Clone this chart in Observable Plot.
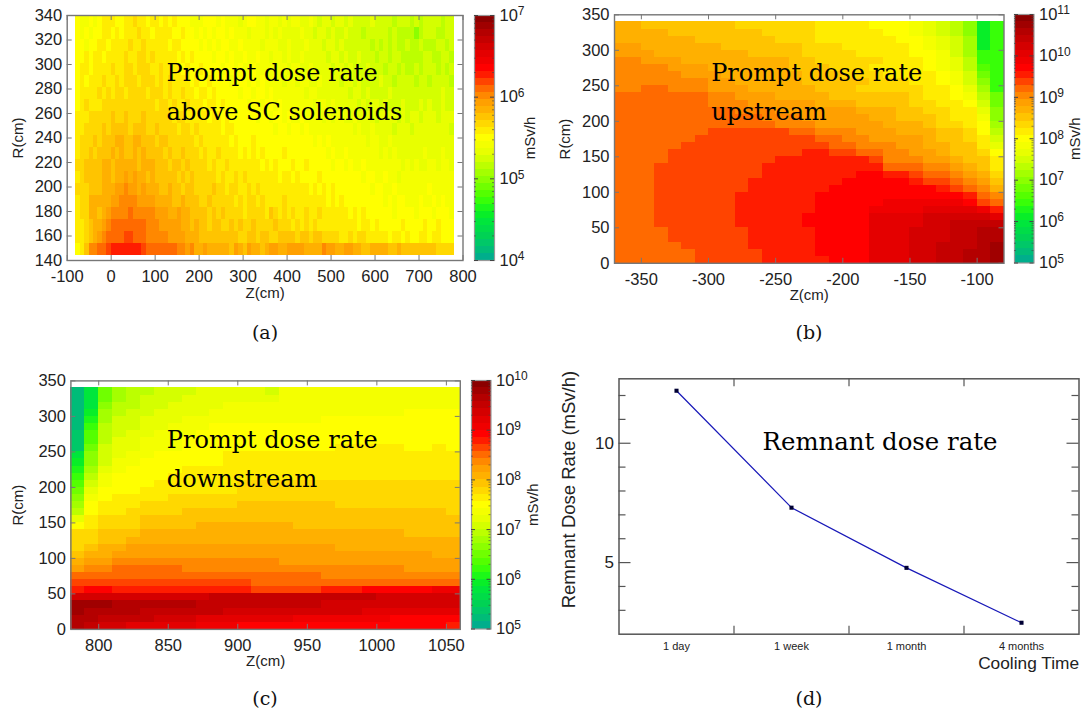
<!DOCTYPE html>
<html><head><meta charset="utf-8">
<script src="https://cdn.jsdelivr.net/npm/d3@7"></script>
<script src="https://cdn.jsdelivr.net/npm/@observablehq/plot@0.6"></script>
<style>
html,body{margin:0;padding:0;background:#fff}
#page{position:relative;width:1081px;height:711px;overflow:hidden;background:#fff}
.slot{position:absolute;width:max-content}
.slot svg{overflow:visible;background:transparent;display:block;max-width:none!important;height:auto}
.cap{position:absolute;font-family:"DejaVu Serif",serif;font-size:19px;color:#111;transform:translate(-50%,-50%)}
</style></head><body><div id="page"></div>
<script>
// Colour bands of the shared palette, bottom of the colour bar first.
const palette = ["#00ae8c","#00bc78","#00c868","#00d254","#00dc48","#00e63c","#08ee28","#1cf818","#38ff08","#54ff00","#70ff00","#8cff00","#a4ff00","#bcff00","#d4ff00","#e8ff00","#f4ff00","#ffff00","#ffec00","#ffd800","#ffc400","#ffb000","#ffa000","#ff8800","#ff6a00","#ff4400","#ff1c00","#ff0000","#f00000","#e40000","#d40000","#c40000","#b40000","#a00000","#8b0000"];

// Panel (a): colour band of each cell, top row (R=340) first, Z=-80 first.
const aboveSolenoids = [
[17,16,16,17,16,17,18,18,18,17,17,18,18,19,18,18,17,18,18,17,18,17,18,17,17,17,16,16,16,17,17,17,16,17,16,16,16,15,16,17,17,16,16,15,16,16,15,16,15,16,16,15,15,16,15,14,15,15,14,15,15,14,15,14,14,14,14,15,14,14,14,14,13,14,14,14,13,14,13,14,14,14,14,13,14,14],
[17,16,17,16,17,17,18,18,17,18,17,18,18,18,19,18,18,17,18,18,18,18,17,17,18,17,17,16,17,16,17,16,17,17,16,17,16,16,16,15,16,16,16,15,16,15,16,15,15,15,15,16,15,15,14,15,15,14,15,14,14,15,14,14,14,13,14,14,14,14,14,13,14,13,13,13,13,11,13,14,14,14,13,13,14,14],
[17,17,16,17,17,18,18,17,18,18,18,18,19,18,18,19,18,18,18,18,18,17,18,18,17,17,17,17,16,17,16,17,16,17,17,16,16,17,16,16,16,16,15,16,16,16,15,15,16,15,15,15,16,15,15,15,14,15,15,14,15,14,14,14,14,14,14,13,14,13,14,13,14,13,13,14,13,13,14,13,13,13,14,14,13,14],
[17,17,18,17,18,18,17,18,18,18,18,19,18,18,19,19,18,19,18,18,18,18,18,17,18,17,18,17,17,17,17,16,17,17,16,17,16,16,17,16,16,17,16,16,15,16,16,15,16,15,15,16,15,15,15,15,15,14,15,15,14,15,14,14,15,14,14,14,13,14,14,13,14,14,13,13,13,13,13,14,14,13,13,14,14,13],
[17,18,18,17,18,18,18,18,19,18,18,19,19,18,19,19,19,18,18,19,18,18,18,18,17,18,17,17,18,17,17,17,17,16,17,17,16,17,16,16,17,16,16,16,16,15,16,16,15,16,16,15,15,16,15,15,15,15,14,15,15,14,15,14,14,14,15,14,14,14,13,14,14,13,14,13,13,14,13,14,14,14,13,14,13,14],
[17,18,17,18,18,18,19,18,18,19,18,19,19,19,18,19,19,19,18,19,18,19,18,18,18,18,17,18,17,17,18,17,17,17,17,16,17,17,17,16,17,16,17,16,16,16,16,15,16,16,15,16,16,15,15,16,15,15,15,15,14,15,15,14,15,14,14,14,14,15,14,14,13,14,14,14,14,13,14,14,13,14,14,14,14,13],
[17,18,18,18,18,19,18,19,18,19,19,18,19,19,19,19,18,19,19,19,18,19,18,18,19,18,18,17,18,18,17,18,17,17,17,17,17,16,17,17,16,17,17,16,17,16,16,16,16,16,16,16,15,16,16,15,15,15,15,15,15,15,14,15,15,14,15,14,14,14,14,15,14,14,14,14,14,14,14,14,14,14,14,15,14,14],
[17,18,19,18,18,18,19,19,19,19,19,19,19,19,19,19,19,19,18,19,19,18,19,18,18,19,18,18,18,17,18,18,17,18,17,17,17,17,17,16,17,17,16,17,17,16,17,16,16,16,16,16,16,16,15,16,16,15,16,15,15,15,15,15,14,15,14,15,15,14,15,14,14,14,15,14,14,14,15,14,15,14,14,15,14,14],
[18,18,18,19,19,19,19,19,20,19,19,20,19,19,19,20,19,19,19,19,19,19,18,19,19,18,18,18,18,18,17,18,18,17,18,17,17,17,17,17,17,16,17,17,16,17,17,16,17,16,16,17,16,16,16,16,15,16,15,16,16,15,15,16,15,15,15,15,14,15,15,15,15,14,15,14,15,15,14,15,15,15,14,15,15,15],
[18,18,19,19,19,19,20,19,20,20,20,20,19,20,20,20,19,19,20,19,19,19,19,18,19,19,18,19,18,18,18,18,18,17,18,18,17,17,17,17,17,17,17,17,17,16,17,17,16,17,17,16,17,16,16,16,16,16,16,16,16,16,16,15,16,15,15,16,15,15,15,15,14,15,15,15,14,15,15,15,15,15,15,15,15,14],
[18,19,19,19,20,19,20,20,20,21,21,20,20,21,21,20,20,20,19,20,20,19,19,19,19,19,19,18,19,18,18,18,18,18,18,17,18,17,17,17,18,17,17,17,17,17,17,17,17,17,17,17,17,17,16,17,16,17,16,16,16,16,16,16,16,16,15,16,16,15,15,16,15,15,15,15,15,15,15,15,15,15,15,15,15,15],
[18,19,19,20,19,20,20,20,21,20,21,20,20,21,20,21,20,20,20,20,19,20,19,19,20,19,19,19,18,19,18,18,19,18,18,18,18,17,18,17,18,17,18,17,17,17,17,18,17,17,17,17,17,17,17,17,17,16,17,16,16,17,16,16,16,16,16,16,16,15,16,15,16,15,15,15,15,15,15,16,15,15,15,16,15,15],
[19,19,20,20,20,20,21,21,20,21,21,21,21,21,20,21,21,21,20,20,20,19,20,20,19,20,19,19,19,19,18,19,18,18,19,18,18,18,18,18,18,18,17,18,17,18,17,17,17,18,17,17,18,17,17,17,17,17,16,17,17,16,17,16,16,17,16,16,16,16,16,16,16,16,15,16,15,16,15,15,16,16,15,16,16,15],
[18,19,20,20,20,20,21,21,20,21,21,22,21,22,21,21,20,21,20,20,20,20,20,19,20,19,20,19,19,19,19,19,18,19,18,18,19,18,19,18,18,18,18,18,18,18,17,18,18,17,18,17,17,17,17,18,17,17,17,17,17,17,17,17,17,16,17,17,16,16,17,16,16,15,16,16,16,16,16,16,16,16,16,16,16,16],
[19,19,19,20,20,20,21,21,21,22,22,23,22,22,21,22,21,21,21,20,20,21,20,20,19,20,20,19,19,19,19,20,19,19,18,19,19,18,18,19,18,19,18,18,18,18,18,18,18,18,18,18,18,17,18,17,18,17,18,17,17,17,17,17,17,17,17,16,17,17,16,16,17,16,16,16,16,16,16,16,17,16,16,16,16,16],
[18,19,19,21,21,21,21,21,22,22,23,23,23,23,22,22,22,22,21,21,21,21,20,20,21,20,20,20,19,19,20,19,19,19,19,19,18,19,18,19,19,18,19,18,18,18,18,19,18,18,18,18,18,18,18,18,18,17,18,17,18,17,17,17,17,17,17,17,17,17,16,17,16,17,17,16,16,16,17,16,16,17,16,17,16,16],
[18,19,19,21,21,20,21,22,23,23,23,23,24,23,23,23,23,23,22,22,22,21,21,22,21,21,20,20,20,20,19,20,19,20,19,19,19,19,18,19,19,19,19,18,20,19,18,19,18,19,18,18,19,18,18,19,18,18,18,18,18,18,17,18,17,18,17,17,17,17,17,17,16,17,17,17,17,16,17,17,17,16,17,17,17,16],
[18,18,19,20,21,21,22,23,24,24,24,24,24,24,24,24,23,23,23,22,22,22,22,22,21,21,20,21,20,20,19,20,20,19,19,20,19,20,19,19,20,19,19,19,19,20,19,19,19,18,19,18,19,18,19,18,18,18,18,18,18,18,18,18,17,18,18,17,18,17,17,17,17,17,18,17,17,17,17,18,17,17,18,17,17,17],
[18,18,19,20,21,22,23,24,24,24,24,25,25,24,24,24,23,23,23,23,23,22,22,22,22,21,21,21,20,20,20,20,20,20,20,20,20,19,19,20,20,19,20,20,19,19,20,20,20,20,19,20,20,19,20,20,19,19,19,19,18,18,19,18,19,19,18,18,18,18,18,17,18,18,17,18,17,17,18,18,17,18,18,17,17,17],
[17,18,20,23,23,24,24,25,26,26,26,26,26,26,26,25,24,24,24,24,24,24,24,23,23,22,23,21,21,22,21,21,21,21,21,20,22,21,20,22,21,21,20,21,22,22,21,21,22,22,22,22,21,21,21,21,23,22,22,21,21,22,22,21,21,20,20,21,21,21,21,20,20,21,20,20,20,20,20,20,20,20,19,19,19,19]
];

// Panel (b): colour band of each cell, top row (R=340) first, Z=-370 first.
const upstream = [
[21,21,20,20,20,20,20,20,20,19,19,19,19,19,19,18,18,18,18,17,17,17,16,15,14,13,11,6,8],
[21,21,21,21,20,20,20,20,20,20,20,19,19,19,19,18,18,18,18,18,17,17,16,15,14,13,11,6,8],
[21,21,21,21,21,21,20,20,20,20,20,20,19,19,19,18,18,18,18,18,18,17,17,16,15,14,12,6,8],
[22,22,21,21,21,21,21,21,20,20,20,20,20,20,19,19,19,18,18,18,18,18,17,16,15,14,12,6,8],
[22,22,22,21,21,21,21,21,21,21,20,20,20,20,19,19,19,19,18,18,18,18,17,17,16,14,12,8,8],
[23,23,22,22,22,21,21,21,21,21,21,21,21,20,20,19,19,19,19,19,18,18,18,17,16,15,13,8,8],
[23,23,23,23,22,22,22,21,21,21,21,21,21,20,20,20,19,19,19,18,18,18,18,17,16,15,13,9,8],
[23,23,23,23,23,22,22,22,21,21,21,21,21,21,20,20,20,19,19,19,18,18,18,18,17,16,14,10,8],
[23,23,23,23,23,23,23,22,22,21,21,21,21,21,20,20,20,20,20,19,19,19,18,18,17,16,14,11,8],
[23,23,24,24,23,23,23,22,22,22,21,21,21,21,21,20,20,20,19,19,19,19,19,18,18,17,15,12,8],
[24,24,24,24,24,24,24,23,23,22,22,22,21,21,21,21,20,20,20,20,20,20,19,18,18,17,16,13,10],
[24,24,24,24,24,24,24,23,23,23,22,22,22,22,22,21,21,21,20,20,20,20,19,19,18,18,17,14,10],
[24,24,24,24,24,24,24,24,24,23,23,23,22,22,22,22,22,22,21,21,21,20,20,19,19,18,18,15,11],
[24,24,24,24,24,24,24,24,24,24,24,23,23,23,22,22,22,22,22,21,21,20,20,20,19,18,18,16,11],
[24,24,24,24,24,24,24,24,24,24,24,24,23,23,23,22,22,22,22,22,21,21,21,20,19,19,18,17,12],
[24,24,24,24,24,24,24,25,25,25,25,25,25,24,24,23,23,23,22,22,22,21,21,21,20,20,19,17,13],
[24,24,24,24,24,24,25,25,25,25,25,25,25,25,25,24,24,23,23,22,22,22,22,21,20,20,19,18,14],
[24,24,24,24,24,25,25,25,25,25,25,25,25,25,25,25,24,24,23,23,23,22,22,21,21,20,20,18,15],
[24,24,24,24,25,25,25,25,25,25,25,25,25,25,26,26,25,25,24,24,23,23,22,22,21,20,20,19,17],
[24,24,24,24,25,25,25,25,25,25,25,25,26,26,26,26,26,26,26,25,23,23,23,22,22,21,20,20,18],
[24,24,24,25,25,25,25,25,25,25,25,26,26,26,26,26,26,26,26,26,24,24,24,23,23,22,21,20,18],
[24,24,24,25,25,25,25,25,25,25,25,26,26,26,26,26,26,26,27,27,26,26,25,24,24,23,22,21,19],
[24,24,24,25,25,25,25,25,25,25,26,26,26,26,26,26,26,27,27,27,27,27,26,25,25,24,23,22,20],
[24,24,24,25,25,25,25,25,25,25,26,26,26,26,26,26,27,27,27,27,27,27,27,27,26,25,24,23,21],
[24,24,24,25,25,25,25,25,25,26,26,26,26,26,26,27,27,27,27,27,27,27,27,27,27,27,26,24,23],
[24,24,24,25,25,25,25,25,25,26,26,26,26,26,26,27,27,27,27,27,28,28,28,28,28,28,27,25,24],
[24,24,24,25,25,25,25,25,25,26,26,26,26,26,26,27,27,27,27,28,28,28,28,29,29,29,29,28,26],
[24,24,24,25,25,25,25,25,25,26,26,26,26,26,27,27,27,27,27,29,29,29,29,30,30,30,30,30,29],
[24,24,24,25,25,25,25,25,25,26,26,26,26,26,27,27,27,27,27,29,29,29,29,30,30,31,31,31,31],
[24,24,24,24,25,25,25,25,25,25,26,26,26,26,26,27,27,27,27,29,29,29,30,30,30,31,31,32,32],
[24,24,24,24,25,25,25,25,25,25,26,26,26,26,26,27,27,27,27,29,29,29,30,30,30,31,31,32,32],
[24,24,24,24,24,25,25,25,25,25,26,26,26,26,26,27,27,27,27,29,29,29,30,30,31,31,31,32,33],
[24,24,24,24,24,24,25,25,25,25,25,26,26,26,26,27,27,27,27,29,29,29,30,30,31,31,32,32,33],
[24,24,24,24,24,24,25,25,25,25,25,26,26,26,26,26,27,27,27,29,29,29,30,30,31,31,32,32,33]
];

// Panel (c): colour band of each cell, top row (R=340) first, Z=780 first.
const downstream = [
[1,5,10,12,13,13,14,14,14,15,15,15,15,15,14,16,16,16,16,16,16,16,16,16,16,16,16,16],
[1,5,10,12,13,14,14,14,15,15,15,15,15,15,15,16,16,16,16,16,16,16,16,16,16,16,16,16],
[1,5,11,13,13,14,14,15,15,15,15,16,16,16,16,16,16,16,16,16,16,16,16,16,16,16,16,16],
[1,6,12,13,14,14,15,15,15,15,16,16,16,16,16,16,16,16,16,16,16,16,16,16,17,17,17,17],
[1,7,12,14,14,15,15,15,16,16,16,16,16,16,16,16,16,16,17,17,17,17,17,17,17,17,17,17],
[1,8,13,14,14,15,15,16,16,16,17,17,17,17,17,17,17,17,17,17,17,17,17,17,17,17,17,17],
[2,9,13,14,15,15,16,16,16,17,17,17,17,17,17,17,17,17,17,17,17,17,17,17,17,17,17,17],
[2,9,13,15,15,16,16,16,17,17,17,17,17,17,17,17,17,17,17,17,17,17,17,17,17,17,17,17],
[2,10,14,15,15,16,16,16,17,17,17,17,17,17,17,17,17,17,17,18,18,18,18,18,17,17,18,17],
[5,11,14,15,16,16,17,17,17,17,17,18,18,18,18,18,18,18,18,18,18,18,18,18,18,18,18,18],
[6,11,14,16,16,17,17,17,17,17,17,18,18,18,18,18,18,18,18,18,18,18,18,18,18,18,18,18],
[7,12,15,16,17,17,17,17,18,18,18,18,18,18,18,18,18,18,18,18,18,18,18,18,18,18,18,18],
[8,13,16,17,17,17,17,18,18,18,18,18,18,18,18,18,18,18,18,18,18,18,18,18,18,18,18,18],
[9,14,16,17,17,17,18,18,18,18,18,18,19,19,19,19,19,19,19,19,19,19,19,19,19,19,19,19],
[10,15,17,17,17,18,18,18,18,18,18,18,19,19,19,19,19,19,19,19,19,19,19,19,19,19,19,19],
[11,16,17,18,18,18,18,19,19,19,19,19,19,19,19,19,19,19,19,19,19,19,19,19,19,19,19,19],
[12,17,18,18,18,19,19,19,19,19,19,19,20,20,20,20,20,20,20,19,19,19,19,19,19,19,19,19],
[13,17,18,18,19,19,19,19,20,20,20,20,20,20,20,20,20,20,20,20,20,20,20,20,20,20,20,19],
[15,18,19,19,19,20,20,20,20,20,20,20,20,20,20,20,20,20,20,20,20,20,20,20,20,20,20,20],
[17,18,19,19,19,20,20,20,20,21,21,21,21,21,21,21,20,20,20,20,20,20,20,20,20,20,20,20],
[19,19,20,20,20,21,21,21,21,21,21,21,21,21,21,21,21,21,21,21,21,21,21,21,20,20,20,20],
[19,19,20,20,21,21,21,21,21,21,21,21,21,21,21,21,21,21,21,21,21,21,21,21,21,21,21,21],
[19,20,21,21,22,22,22,22,22,22,22,22,22,22,22,22,22,22,22,21,21,21,21,21,21,21,21,21],
[20,21,21,22,22,22,22,22,22,22,22,22,22,22,22,22,22,22,22,22,22,22,22,22,22,22,21,21],
[21,22,22,23,23,23,23,23,23,23,23,23,23,23,23,22,22,22,22,22,22,22,22,22,22,22,22,22],
[22,23,23,24,24,24,24,24,23,23,23,23,23,23,23,23,23,23,23,23,23,23,23,23,22,22,22,22],
[24,24,24,24,24,24,24,24,24,24,24,24,24,24,24,24,24,24,23,23,23,23,23,23,23,23,23,23],
[25,25,25,25,25,25,25,25,25,25,25,25,25,24,24,24,24,24,24,24,24,24,24,24,24,24,24,24],
[26,27,27,26,26,26,26,26,26,26,26,26,26,25,25,25,25,25,26,26,26,27,27,27,27,27,28,28],
[30,30,30,30,30,30,30,30,30,30,31,31,31,31,31,31,31,31,31,31,31,31,30,30,30,30,30,30],
[33,33,33,32,32,32,32,32,32,31,31,31,31,31,31,31,31,31,30,30,30,30,30,30,30,30,30,30],
[33,32,32,32,32,31,31,31,31,31,31,30,30,30,30,30,30,30,30,30,30,29,29,29,29,29,29,29],
[32,32,31,31,31,31,30,30,30,29,29,29,29,29,29,29,28,28,28,28,28,28,28,27,27,27,27,27],
[32,31,30,30,29,29,29,29,29,28,28,28,27,27,27,27,27,27,27,27,27,27,27,27,27,27,27,26]
];

// Panel (d)
const coolingTimes = ["1 day","1 week","1 month","4 months"];
const remnantDose = [12.2,7.3,4.78,2.48];

const sans = "'Liberation Sans',Arial,sans-serif";
const serif = "'DejaVu Serif',serif";
const frameColor = "#777";
const page = document.getElementById("page");
function place(node,left,top){const d=document.createElement("div");d.className="slot";d.style.left=left+"px";d.style.top=top+"px";d.appendChild(node);page.appendChild(d);}
function caption(t,x,y){const d=document.createElement("div");d.className="cap";d.textContent=t;d.style.left=x+"px";d.style.top=y+"px";page.appendChild(d);}

const powerLabel = v => "10^" + Math.round(Math.log10(v));
function raisePowers(svg){
  svg.querySelectorAll("text").forEach(t=>{
    const m=/^10\^(\d+)$/.exec(t.textContent);
    if(!m) return;
    t.textContent="10";
    const s=document.createElementNS("http://www.w3.org/2000/svg","tspan");
    s.setAttribute("dy","-0.45em");
    s.setAttribute("font-size","12");
    s.textContent=m[1];
    t.appendChild(s);
  });
}

function heat(rows,cfg){
  const [fl,fr]=cfg.fx,[ft,fb]=cfg.fy;
  const W=fr-fl,H=fb-ft;
  const cells=rows.flatMap((row,r)=>row.map((band,c)=>({
    x1:cfg.z0+cfg.dz*c,x2:cfg.z0+cfg.dz*(c+1),
    y2:cfg.rTop-cfg.dr*r,y1:cfg.rTop-cfg.dr*(r+1),band})));
  const width=fr-cfg.left+8,height=320;
  const chart=Plot.plot({
    width,height,
    marginLeft:fl-cfg.left,marginRight:width-(fr-cfg.left),marginTop:ft-cfg.top,marginBottom:height-(fb-cfg.top),
    style:{fontFamily:sans,fontSize:"16.5px",color:"#222",background:"transparent"},
    x:{domain:cfg.xDomain},
    y:{domain:cfg.yDomain},
    color:{type:"ordinal",domain:d3.range(palette.length),range:palette},
    marks:[
      Plot.rect(cells,{x1:"x1",x2:"x2",y1:"y1",y2:"y2",fill:"band",shapeRendering:"crispEdges"}),
      Plot.frame({stroke:frameColor,strokeWidth:1.4}),
      Plot.tickX(cfg.xTicks,{x:d=>d,insetTop:H-5,stroke:frameColor}),
      Plot.tickX(cfg.xTicks,{x:d=>d,insetBottom:H-5,stroke:frameColor}),
      Plot.tickY(cfg.yTicks,{y:d=>d,insetRight:W-5,stroke:frameColor}),
      Plot.tickY(cfg.yTicks,{y:d=>d,insetLeft:W-5,stroke:frameColor}),
      Plot.axisX({ticks:cfg.xTicks,tickSize:0,tickPadding:10,label:null,tickFormat:d=>String(d)}),
      Plot.axisY({ticks:cfg.yTicks,tickSize:0,tickPadding:5,label:null,tickFormat:d=>String(d)}),
      Plot.text(["Z(cm)"],{frameAnchor:"bottom",dy:cfg.zLabelDy,fontSize:15,fill:"#222"}),
      Plot.text(["R(cm)"],{frameAnchor:"left",rotate:-90,textAnchor:"middle",dx:cfg.rLabelDx,fontSize:15,fill:"#222"}),
      Plot.text(cfg.note,{x:d=>d.x,y:d=>d.y,text:d=>d.t,textAnchor:"start",fontFamily:serif,fontSize:24,fill:"#000"})
    ]
  });
  place(chart,cfg.left,cfg.top);
}
function colorBar(cfg){
  const [fl,fr]=cfg.fx,[ft,fb]=cfg.fy;
  const [lo,hi]=cfg.decades,n=palette.length;
  const bands=d3.range(n).map(i=>({i,y1:10**(lo+(hi-lo)*i/n),y2:10**(lo+(hi-lo)*(i+1)/n)}));
  const major=d3.range(lo,hi+1).map(p=>10**p);
  const minor=d3.range(lo,hi).flatMap(p=>[2,3,4,5,6,7,8,9].map(m=>m*10**p));
  const left=fl-4,width=fr-left+60,height=fb-ft+20,W=fr-fl;
  const chart=Plot.plot({
    width,height,
    marginLeft:4,marginRight:60,marginTop:10,marginBottom:10,
    style:{fontFamily:sans,fontSize:"16.5px",color:"#222",background:"transparent"},
    x:{domain:[0,1],axis:null},
    y:{type:"log",domain:[10**lo,10**hi],axis:null},
    color:{type:"ordinal",domain:d3.range(n),range:palette},
    marks:[
      Plot.rect(bands,{x1:0,x2:1,y1:"y1",y2:"y2",fill:"i",shapeRendering:"crispEdges"}),
      Plot.frame({stroke:"#999",strokeWidth:1.2}),
      Plot.tickY(major,{y:d=>d,insetRight:W-4,stroke:"#444"}),
      Plot.tickY(major,{y:d=>d,insetLeft:W-4,stroke:"#444"}),
      Plot.tickY(minor,{y:d=>d,insetRight:W-2,stroke:"#444",strokeOpacity:0.6}),
      Plot.tickY(minor,{y:d=>d,insetLeft:W-2,stroke:"#444",strokeOpacity:0.6}),
      Plot.axisY({anchor:"right",ticks:major,tickSize:0,tickPadding:5,label:null,tickFormat:powerLabel}),
      Plot.text(["mSv/h"],{frameAnchor:"right",rotate:-90,textAnchor:"middle",dx:cfg.unitDx,fontSize:15,fill:"#222"})
    ]
  });
  raisePowers(chart);
  place(chart,left,ft-10);
}

heat(aboveSolenoids,{left:0,top:0,fx:[66.7,462.5],fy:[15,260],xDomain:[-100,800],yDomain:[140,340],
  z0:-80,dz:10,rTop:340,dr:9.8,rLabelDx:-49,zLabelDy:37,
  xTicks:d3.range(-100,801,100),yTicks:d3.range(140,341,20),
  note:[{x:126,y:292.7,t:"Prompt dose rate"},{x:126,y:261,t:"above SC solenoids"}]});
colorBar({fx:[474,494],fy:[15,260],decades:[4,7],unitDx:36});

heat(upstream,{left:560,top:0,fx:[614,1003.5],fy:[14.3,262.8],xDomain:[-370,-80],yDomain:[0,350],
  z0:-370,dz:10,rTop:340,dr:10,rLabelDx:-49,zLabelDy:37,
  xTicks:d3.range(-350,-99,50),yTicks:d3.range(0,351,50),
  note:[{x:-298,y:267,t:"Prompt dose rate"},{x:-298,y:212,t:"upstream"}]});
colorBar({fx:[1013.5,1033],fy:[14.3,262.8],decades:[5,11],unitDx:41});

heat(downstream,{left:0,top:360,fx:[70.4,459.8],fy:[380.4,628.9],xDomain:[780,1060],yDomain:[0,350],
  z0:780,dz:10,rTop:340,dr:10,rLabelDx:-53,zLabelDy:37,
  xTicks:d3.range(800,1051,50),yTicks:d3.range(0,351,50),
  note:[{x:849,y:267,t:"Prompt dose rate"},{x:849,y:212,t:"downstream"}]});
colorBar({fx:[471,490.5],fy:[380.4,628.9],decades:[5,10],unitDx:42});

// Panel (d)
(function(){
  const left=540,top=360,fl=618.5,fr=1078.5,ft=378.3,fb=633.7;
  const W=fr-fl,H=fb-ft,width=fr-left+2,height=320;
  const pts=remnantDose.map((v,i)=>({i:i+1,v}));
  const edge=[1.5,2.5,3.5],major=[5,10],minor=[3,4,6,7,8,9,11,12];
  const ink="#555";
  const chart=Plot.plot({
    width,height,
    marginLeft:fl-left,marginRight:width-(fr-left),marginTop:ft-top,marginBottom:height-(fb-top),
    style:{fontFamily:sans,fontSize:"17px",color:"#222",background:"transparent"},
    x:{domain:[0.5,4.5]},
    y:{domain:[2,12.7]},
    marks:[
      Plot.frame({stroke:ink,strokeWidth:1.5}),
      Plot.tickX(edge,{x:d=>d,insetTop:H-8,stroke:ink,strokeWidth:1.2}),
      Plot.tickX(edge,{x:d=>d,insetBottom:H-8,stroke:ink,strokeWidth:1.2}),
      Plot.tickY(major,{y:d=>d,insetRight:W-12,stroke:ink,strokeWidth:1.2}),
      Plot.tickY(major,{y:d=>d,insetLeft:W-12,stroke:ink,strokeWidth:1.2}),
      Plot.tickY(minor,{y:d=>d,insetRight:W-7,stroke:ink,strokeWidth:1.2}),
      Plot.tickY(minor,{y:d=>d,insetLeft:W-7,stroke:ink,strokeWidth:1.2}),
      Plot.line(pts,{x:"i",y:"v",stroke:"#1818b8",strokeWidth:1.2}),
      Plot.dot(pts,{x:"i",y:"v",symbol:"square",r:2.3,fill:"#000033"}),
      Plot.axisX({ticks:[1,2,3,4],tickSize:0,tickPadding:8,label:null,fontSize:11,tickFormat:d=>coolingTimes[d-1]}),
      Plot.axisY({ticks:major,tickSize:0,tickPadding:5,label:null,tickFormat:d=>String(d)}),
      Plot.text(["Cooling Time"],{frameAnchor:"bottom-right",dy:35,fontSize:17.3,textAnchor:"end",fill:"#222"}),
      Plot.text(["Remnant Dose Rate (mSv/h)"],{frameAnchor:"left",y:()=>8.06,rotate:-90,textAnchor:"middle",dx:-50,fontSize:18.5,fill:"#222"}),
      Plot.text([{x:2.77,y:10.05,t:"Remnant dose rate"}],{x:"x",y:"y",text:"t",fontFamily:serif,fontSize:24.4,fill:"#000"})
    ]
  });
  place(chart,left,top);
})();

caption("(a)",265,332);
caption("(b)",809,332);
caption("(c)",265,698);
caption("(d)",809,698);
</script></body></html>
